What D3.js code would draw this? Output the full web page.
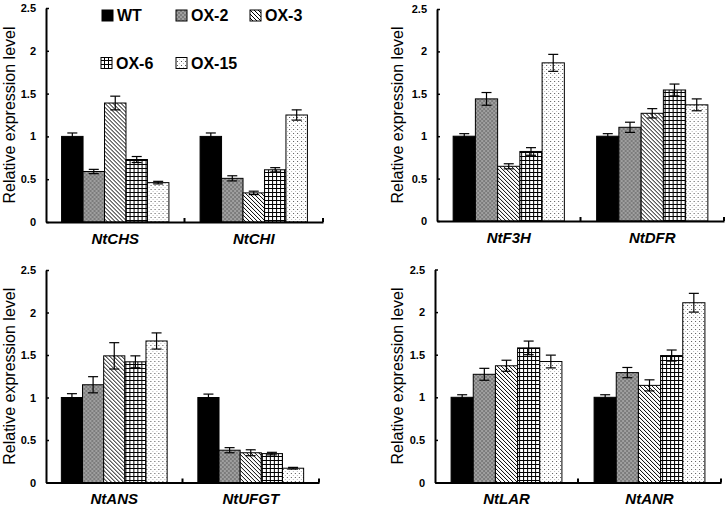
<!DOCTYPE html>
<html><head><meta charset="utf-8">
<script src="https://cdn.jsdelivr.net/npm/d3@7"></script>
<style>
body{margin:0;background:#fff;}
svg{display:block;font-family:"Liberation Sans",Arial,sans-serif;}
</style></head>
<body><svg id="c" width="728" height="509"></svg>
<script>
// ---------- data ----------
const series = ["WT","OX-2","OX-3","OX-6","OX-15"];
const yTicks = [0,0.5,1,1.5,2,2.5];
const yTickLabels = ["0","0.5","1","1.5","2","2.5"];
const genesA = ["NtCHS","NtCHI"];
const valuesA = [[1.0,0.59,1.39,0.73,0.46],[1.0,0.51,0.34,0.61,1.25]];
const errorsA = [[0.04,0.025,0.08,0.035,0.015],[0.04,0.03,0.02,0.025,0.06]];
const genesB = ["NtF3H","NtDFR"];
const valuesB = [[1.0,1.44,0.645,0.82,1.865],[1.0,1.105,1.27,1.545,1.37]];
const errorsB = [[0.03,0.075,0.03,0.045,0.1],[0.03,0.06,0.055,0.07,0.07]];
const genesC = ["NtANS","NtUFGT"];
const valuesC = [[1.0,1.15,1.49,1.42,1.665],[1.0,0.38,0.35,0.34,0.168]];
const errorsC = [[0.045,0.095,0.155,0.07,0.095],[0.04,0.03,0.035,0.015,0.01]];
const genesD = ["NtLAR","NtANR"];
const valuesD = [[1.0,1.27,1.37,1.58,1.42],[1.0,1.29,1.14,1.49,2.11]];
const errorsD = [[0.03,0.07,0.065,0.08,0.075],[0.03,0.06,0.065,0.065,0.11]];
const yLabel = "Relative expression level";

// ---------- layout ----------
const panels = [
  {genes:genesA, values:valuesA, errors:errorsA, x0:46, x1:323, yb:222, yt:8, labX:9, legend:true},
  {genes:genesB, values:valuesB, errors:errorsB, x0:437, x1:724, yb:221, yt:9, labX:397},
  {genes:genesC, values:valuesC, errors:errorsC, x0:46, x1:319, yb:482.5, yt:270, labX:9},
  {genes:genesD, values:valuesD, errors:errorsD, x0:435, x1:721, yb:482.5, yt:269.5, labX:397}
];

const svg = d3.select("#c");
const defs = svg.append("defs");

function pat(id,w,h,bg){
  const p = defs.append("pattern").attr("id",id).attr("patternUnits","userSpaceOnUse").attr("width",w).attr("height",h);
  p.append("rect").attr("width",w).attr("height",h).attr("fill",bg);
  return p;
}
// OX-2 : gray checker dither
const p2 = pat("pOX2",4,4,"#7c7c7c");
p2.append("rect").attr("x",0).attr("y",0).attr("width",2).attr("height",2).attr("fill","#c4c4c4");
p2.append("rect").attr("x",2).attr("y",2).attr("width",2).attr("height",2).attr("fill","#c4c4c4");
p2.append("rect").attr("x",0.5).attr("y",0.5).attr("width",1).attr("height",1).attr("fill","#333");
p2.append("rect").attr("x",2.5).attr("y",2.5).attr("width",1).attr("height",1).attr("fill","#333");
// OX-3 : diagonal lines "\"
const p3 = pat("pOX3",4,4,"#fff");
p3.append("path").attr("d","M-1,-1 L5,5 M-1,3 L1,5 M3,-1 L5,1").attr("stroke","#000").attr("stroke-width",1);
// OX-6 : grid
const p6 = pat("pOX6",4,4,"#fff");
p6.append("rect").attr("x",0).attr("y",0).attr("width",4).attr("height",1).attr("fill","#000");
p6.append("rect").attr("x",0).attr("y",0).attr("width",1).attr("height",4).attr("fill","#000");
// OX-15 : dots
const p15 = pat("pOX15",4,4,"#fff");
p15.append("rect").attr("x",1).attr("y",1).attr("width",1).attr("height",1).attr("fill","#555");
p15.append("rect").attr("x",3).attr("y",3).attr("width",1).attr("height",1).attr("fill","#bbb");

const fills = d3.scaleOrdinal().domain(series).range(["#000","url(#pOX2)","url(#pOX3)","url(#pOX6)","url(#pOX15)"]);

panels.forEach(P => {
  const g = svg.append("g");
  const y = d3.scaleLinear().domain([0,2.5]).range([P.yb,P.yt]);
  const x = d3.scaleBand().domain(P.genes).range([P.x0,P.x1]).paddingInner(0.225).paddingOuter(0.1125);
  const xs = d3.scaleBand().domain(series).range([0,x.bandwidth()]).padding(0);

  P.genes.forEach((gene,gi) => {
    const gg = g.append("g").attr("transform",`translate(${x(gene)},0)`);
    series.forEach((s,si) => {
      const v = P.values[gi][si], e = P.errors[gi][si];
      gg.append("rect").attr("x",xs(s)).attr("y",y(v)).attr("width",xs.bandwidth()).attr("height",y(0)-y(v))
        .attr("fill",fills(s)).attr("stroke","#000").attr("stroke-width",1);
      const cx = xs(s)+xs.bandwidth()/2;
      const eb = gg.append("g").attr("stroke","#000").attr("stroke-width",1.2);
      eb.append("line").attr("x1",cx).attr("x2",cx).attr("y1",y(v-e)).attr("y2",y(v+e));
      eb.append("line").attr("x1",cx-5).attr("x2",cx+5).attr("y1",y(v+e)).attr("y2",y(v+e));
      eb.append("line").attr("x1",cx-5).attr("x2",cx+5).attr("y1",y(v-e)).attr("y2",y(v-e));
    });
  });

  const ya = g.append("g").attr("transform",`translate(${P.x0},0)`)
    .call(d3.axisLeft(y).tickValues(yTicks).tickFormat((d,i)=>yTickLabels[i]).tickSizeInner(-3).tickSizeOuter(0).tickPadding(10));
  ya.select(".domain").attr("stroke-width",2);
  ya.selectAll(".tick line").attr("stroke-width",1.5);
  ya.selectAll("text").attr("font-size",11).attr("font-weight","bold").attr("fill","#000")
    .attr("font-family",'"Liberation Sans",Arial,sans-serif');

  const xa = g.append("g").attr("transform",`translate(0,${P.yb})`)
    .call(d3.axisBottom(x).tickSize(0).tickPadding(11));
  xa.select(".domain").attr("stroke-width",2);
  xa.selectAll("text").attr("font-size",15).attr("font-weight","bold").attr("font-style","italic").attr("fill","#000")
    .attr("font-family",'"Liberation Sans",Arial,sans-serif');
  const sepX = [P.x0 + (P.x1-P.x0)/2, P.x1];
  g.selectAll(".sep").data(sepX).enter().append("line")
    .attr("x1",d=>d).attr("x2",d=>d).attr("y1",P.yb-4).attr("y2",P.yb)
    .attr("stroke","#000").attr("stroke-width",2);

  g.append("text").attr("transform",`translate(${P.labX+6},${(P.yb+P.yt)/2}) rotate(-90)`)
    .attr("text-anchor","middle").attr("font-size",16).attr("fill","#000").text(yLabel);

  if(P.legend){
    const legPos = [[102,15.5],[176,15.5],[250,15.5],[101,63],[176,63]];
    series.forEach((s,i) => {
      const [lx,ly] = legPos[i];
      svg.append("rect").attr("x",lx).attr("y",ly-5.5).attr("width",11).attr("height",11)
        .attr("fill",fills(s)).attr("stroke","#000").attr("stroke-width",1);
      svg.append("text").attr("x",lx+15).attr("y",ly).attr("dy","0.36em")
        .attr("font-size",16).attr("font-weight","bold").attr("fill","#000").text(s);
    });
  }
});
</script></body></html>
